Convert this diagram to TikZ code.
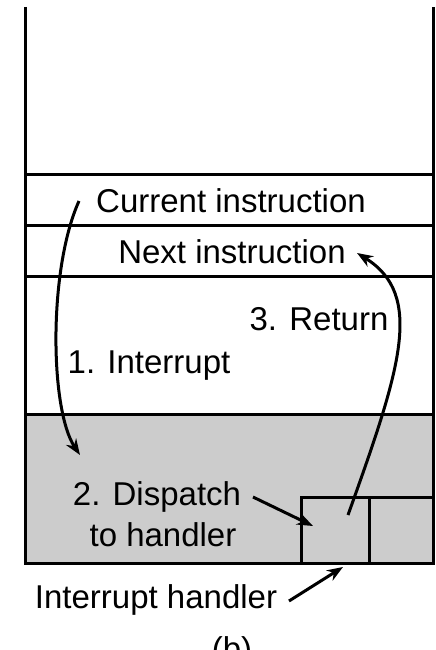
\documentclass[tikz,border=0pt]{standalone}
\usepackage{fontspec}
\setmainfont{Liberation Sans}
\usetikzlibrary{arrows.meta}
\definecolor{gris}{HTML}{CCCCCC}
\tikzset{
  cadre/.style={
    draw=black,
    line width=3pt},
  etiq/.style={
    anchor=base,
    inner sep=0pt,
    font=\fontsize{33}{40}\selectfont},
  fleche/.style={
    draw,
    line width=3pt,
    -{Stealth[length=16pt,width=12pt]}},
}

\begin{document}
\begin{tikzpicture}[x=1pt,y=-1pt]
  \useasboundingbox (0,0) rectangle (436,650);
  % zone grise du gestionnaire
  \fill[gris] (25,414) rectangle (433,563);
  \draw[cadre] (25,7) -- (25,563) -- (433,563) -- (433,7);
  \draw[cadre] (25,174) -- (433,174);
  \draw[cadre] (25,225) -- (433,225);
  \draw[cadre] (25,276) -- (433,276);
  \draw[cadre] (25,414) -- (433,414);
  \draw[cadre] (301,563) -- (301,497) -- (433,497);
  \draw[cadre] (369,497) -- (369,563);
  % textes
  \node[etiq](current_instr) at (231,212) {Current instruction};
  \node[etiq](next_instr) at (232,263) {Next instruction};
  \node[etiq](retour) at (319,330) {3. Return};
  \node[etiq](interruption) at (149,373) {1. Interrupt};
  \node[etiq](dispatch) at (157,505) {2. Dispatch};
  \node[etiq](dispatch2) at (163,546) {to handler};
  \node[etiq](handler_lbl) at (156,608) {Interrupt handler};
  \node[etiq](legende) at (232,660) {(b)};
  % extremites des fleches
  \coordinate (interrupt_start) at (79,201);
  \coordinate (interrupt_end) at (80,455);
  \coordinate (return_start) at (348,515);
  \coordinate (return_end) at (357,253);
  \coordinate (dispatch_start) at (253,497);
  \coordinate (dispatch_end) at (313,526);
  \coordinate (handler_start) at (289,601);
  \coordinate (handler_end) at (343,567);
  \draw[fleche] (interrupt_start) .. controls (48,270) and (50,410) .. (interrupt_end);
  \draw[fleche] (return_start) .. controls (400,370) and (425,295) .. (return_end);
  \draw[fleche] (dispatch_start) -- (dispatch_end);
  \draw[fleche] (handler_start) -- (handler_end);
\end{tikzpicture}
\end{document}
